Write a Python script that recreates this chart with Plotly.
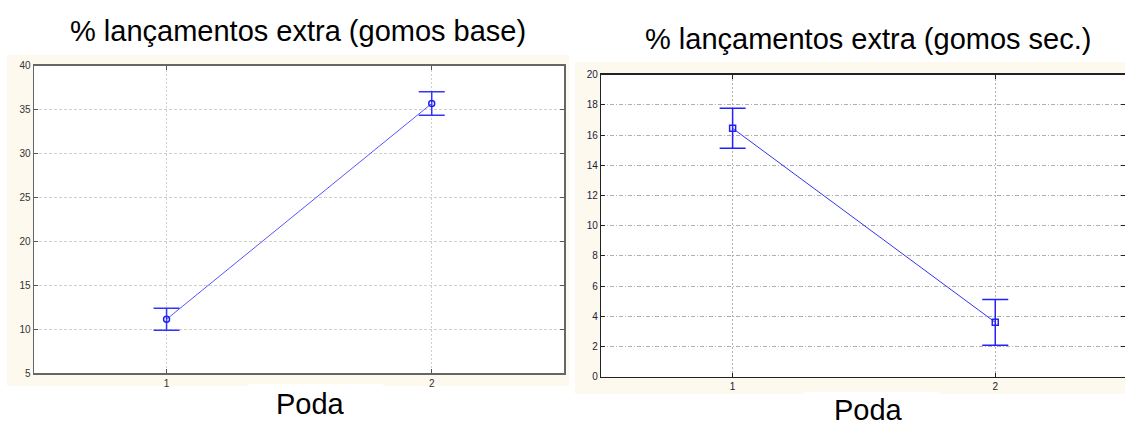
import plotly.graph_objects as go

W, H = 1125, 428

poda = [1, 2]
x_tick_labels = ["1", "2"]
base_mean = [11.15, 35.7]
base_err = [1.25, 1.35]
sec_mean = [16.45, 3.6]
sec_err = [1.32, 1.52]
base_yticks = [5, 10, 15, 20, 25, 30, 35, 40]
sec_yticks = [0, 2, 4, 6, 8, 10, 12, 14, 16, 18, 20]
title_left = "% lançamentos extra (gomos base)"
title_right = "% lançamentos extra (gomos sec.)"
xlabel = "Poda"


def px(x):
    return x / W


def py(y):
    return 1 - y / H


fig = go.Figure()

fig.add_trace(go.Scatter(
    x=poda, y=base_mean, mode="lines+markers",
    line=dict(color="#5555ff", width=1),
    marker=dict(symbol="circle-open", size=6, color="#2222ee", line=dict(width=1.5)),
    error_y=dict(type="data", array=base_err, color="#3333ff", thickness=1.5, width=13),
    xaxis="x", yaxis="y", showlegend=False, hoverinfo="skip"))

fig.add_trace(go.Scatter(
    x=poda, y=sec_mean, mode="lines+markers",
    line=dict(color="#3333ee", width=1),
    marker=dict(symbol="square-open", size=6, color="#2222ee", line=dict(width=1.5)),
    error_y=dict(type="data", array=sec_err, color="#2222ff", thickness=1.5, width=13),
    xaxis="x2", yaxis="y2", showlegend=False, hoverinfo="skip"))

cream = "#fef9ee"
shapes = [
    dict(type="rect", xref="paper", yref="paper", x0=px(7), x1=px(569), y0=py(386), y1=py(55),
         fillcolor=cream, line=dict(width=0), layer="below"),
    dict(type="rect", xref="paper", yref="paper", x0=px(575), x1=px(1125), y0=py(394), y1=py(62),
         fillcolor=cream, line=dict(width=0), layer="below"),
    dict(type="rect", xref="paper", yref="paper", x0=px(248), x1=px(383), y0=py(390), y1=py(384),
         fillcolor="white", line=dict(width=0), layer="below"),
    dict(type="rect", xref="paper", yref="paper", x0=px(803), x1=px(940), y0=py(398), y1=py(392),
         fillcolor="white", line=dict(width=0), layer="below"),
    dict(type="rect", xref="paper", yref="paper", x0=px(34), x1=px(564), y0=py(373.3), y1=py(65.7),
         fillcolor="white", line=dict(width=0), layer="below"),
    dict(type="rect", xref="paper", yref="paper", x0=px(601), x1=px(1125), y0=py(376.7), y1=py(74.7),
         fillcolor="white", line=dict(width=0), layer="below"),
]

tfont = dict(family="Liberation Sans, Arial, sans-serif", size=10, color="#333333")
tfont2 = dict(family="Liberation Sans, Arial, sans-serif", size=10, color="#1a1a3a")

common = dict(ticks="inside", ticklen=4, showline=True, mirror="ticks",
              showgrid=True, zeroline=False, fixedrange=True, automargin=False)

fig.update_layout(
    width=W, height=H, margin=dict(l=0, r=0, t=0, b=0, autoexpand=False),
    paper_bgcolor="white", plot_bgcolor="rgba(0,0,0,0)",
    shapes=shapes,
    xaxis=dict(domain=[px(34), px(564.3)], range=[0.5, 2.5], anchor="y",
               tickmode="array", tickvals=poda, ticktext=x_tick_labels,
               linecolor="#666666", linewidth=1.5, tickcolor="#555555",
               gridcolor="#cfcfcf", griddash="2px,2px", tickfont=tfont, **common),
    yaxis=dict(domain=[py(373.3), py(65.7)], range=[5, 40], anchor="x",
               tickvals=base_yticks,
               linecolor="#666666", linewidth=1.5, tickcolor="#555555",
               gridcolor="#cfcfcf", griddash="3px,2px", tickfont=tfont, **common),
    xaxis2=dict(domain=[px(601.3), 1.0], range=[0.5, 2.494], anchor="y2",
                tickmode="array", tickvals=poda, ticktext=x_tick_labels,
                linecolor="#222222", linewidth=1.5, tickcolor="#222222",
                gridcolor="#b0b0b0", griddash="2px,2px", tickfont=tfont2, **common),
    yaxis2=dict(domain=[py(376.7), py(74.7)], range=[0, 20], anchor="x2",
                tickvals=sec_yticks,
                linecolor="#222222", linewidth=1.5, tickcolor="#222222",
                gridcolor="#b0b0b0", griddash="4px,2px,1px,2px", tickfont=tfont2, **common),
    annotations=[
        dict(text=title_left, x=px(298), y=py(31), xref="paper", yref="paper",
             showarrow=False, xanchor="center", yanchor="middle",
             font=dict(family="Liberation Sans, Arial, sans-serif", size=29, color="black")),
        dict(text=title_right, x=px(868), y=py(39), xref="paper", yref="paper",
             showarrow=False, xanchor="center", yanchor="middle",
             font=dict(family="Liberation Sans, Arial, sans-serif", size=29, color="black")),
        dict(text=xlabel, x=px(310), y=py(404), xref="paper", yref="paper",
             showarrow=False, xanchor="center", yanchor="middle",
             font=dict(family="Liberation Sans, Arial, sans-serif", size=29, color="black")),
        dict(text=xlabel, x=px(868), y=py(410), xref="paper", yref="paper",
             showarrow=False, xanchor="center", yanchor="middle",
             font=dict(family="Liberation Sans, Arial, sans-serif", size=29, color="black")),
    ],
)

fig.write_html(
    "out.html",
    config={"displayModeBar": False, "staticPlot": True},
    post_script="document.body.style.margin='0';document.body.style.padding='0';"
                "document.body.style.overflow='hidden';",
)
